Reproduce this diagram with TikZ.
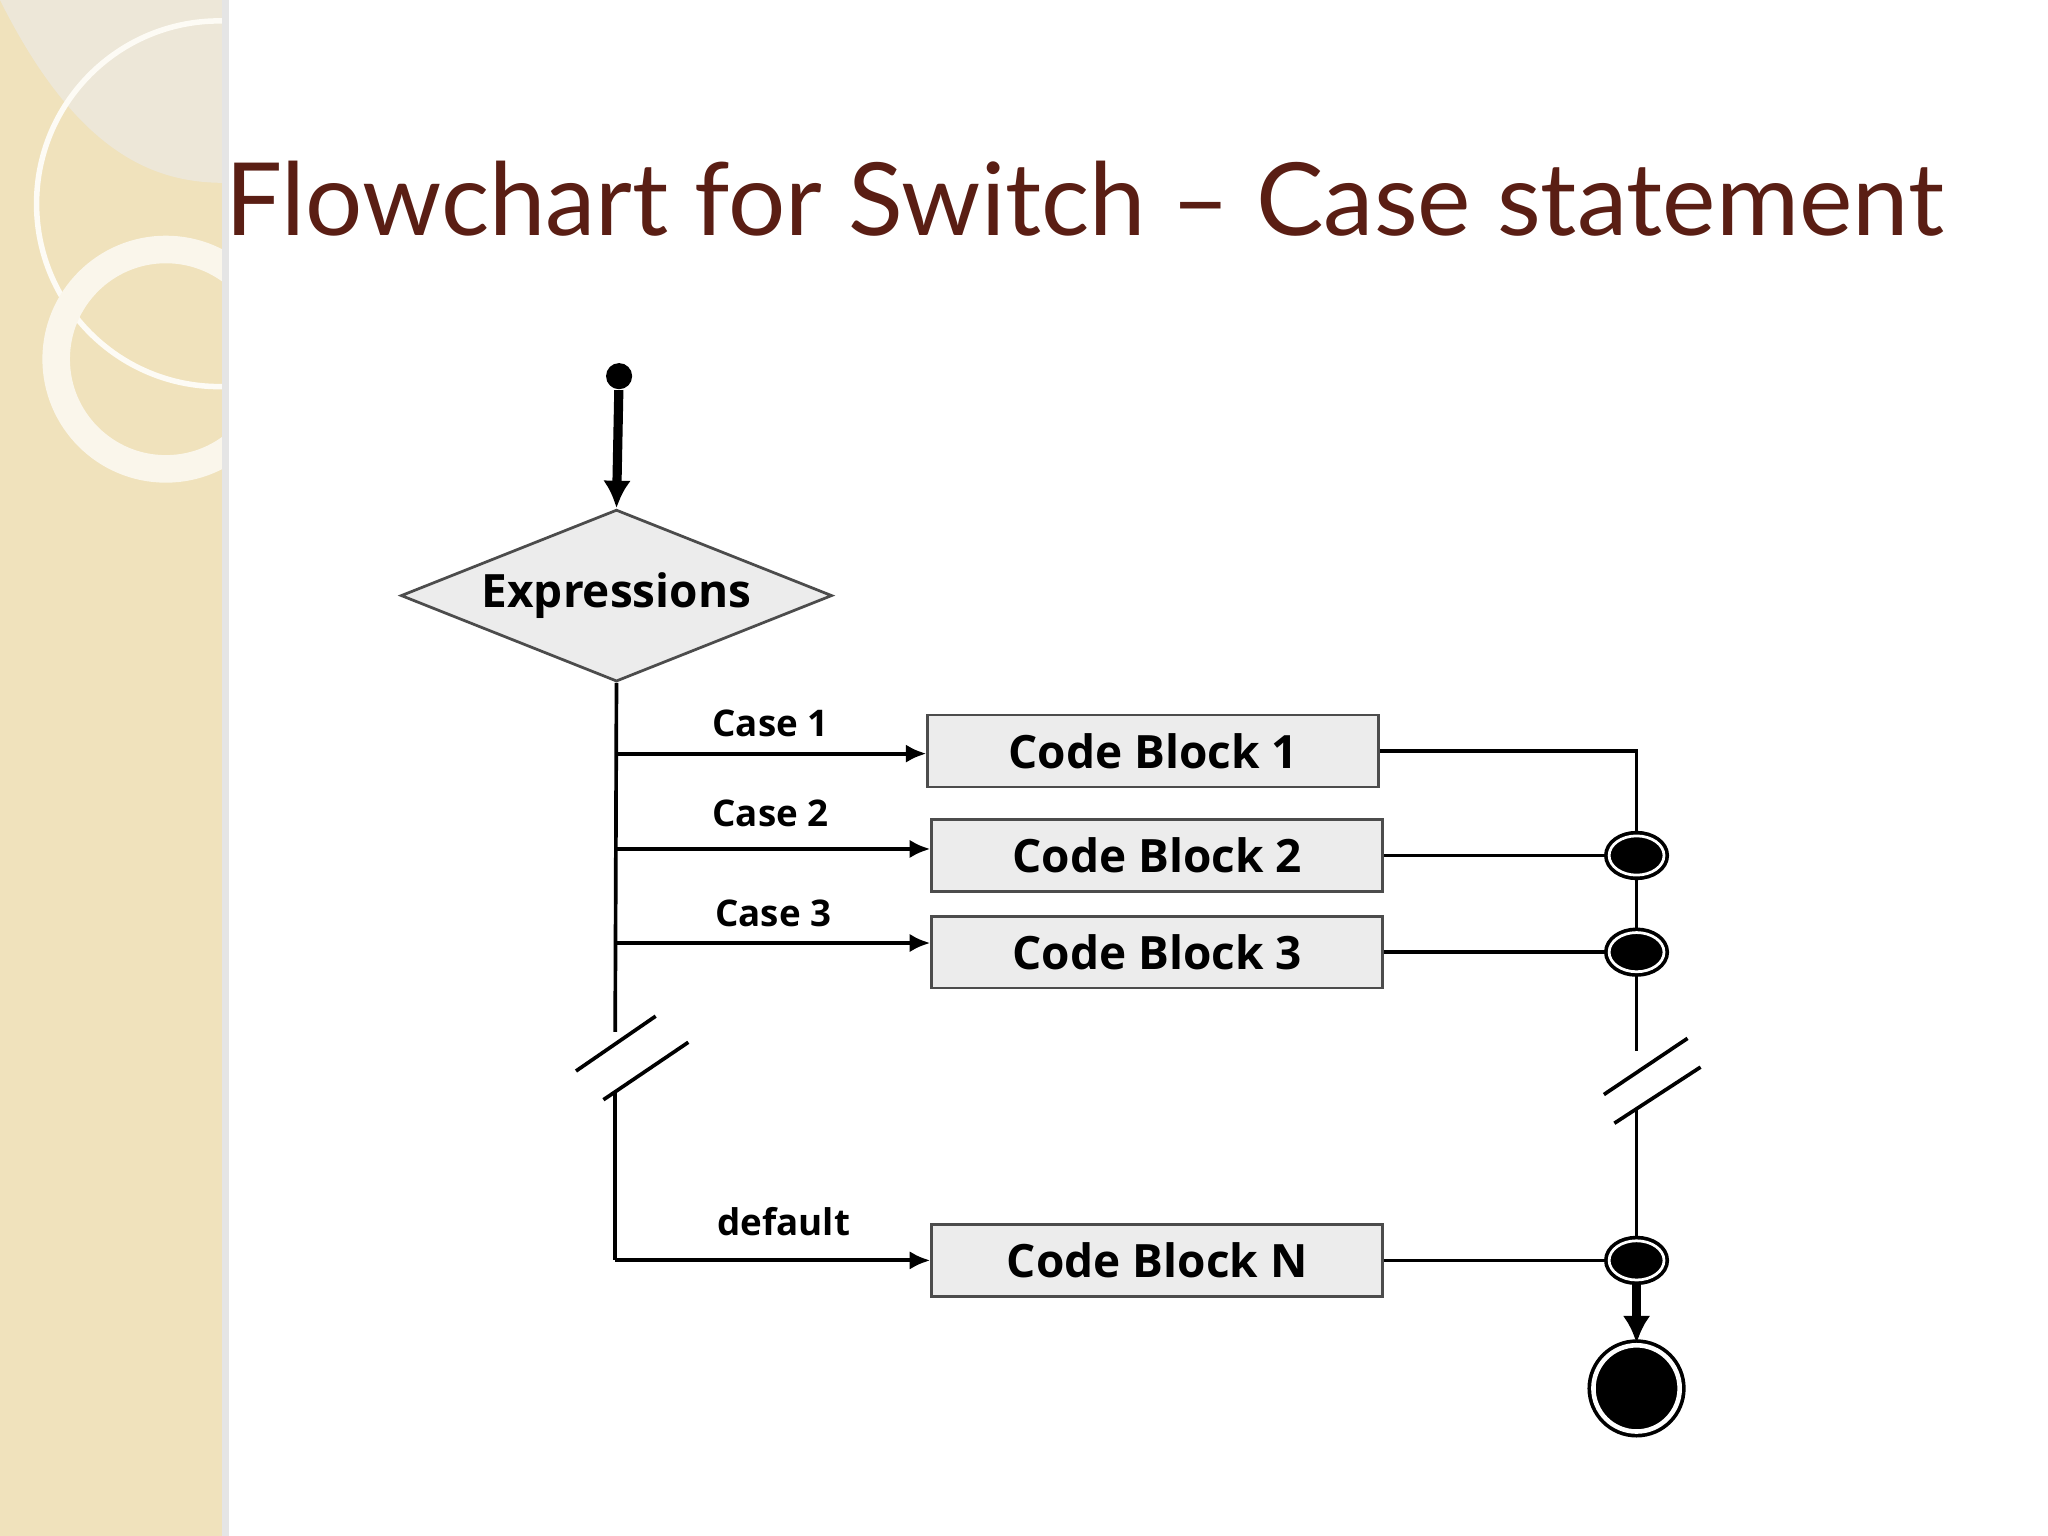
\documentclass[tikz,border=0pt]{standalone}
\usepackage{fontspec}
\setmainfont{Lato}
\newfontfamily\boxfont{Open Sans}
\usetikzlibrary{shapes.geometric,arrows.meta}
\definecolor{band}{RGB}{240,226,188}
\definecolor{titlec}{RGB}{90,30,20}
\definecolor{boxg}{RGB}{236,236,236}
\begin{document}
\begin{tikzpicture}[x=0.01cm,y=-0.01cm,
  blk/.style={draw=black!70,line width=0.6pt,fill=boxg,minimum width=3.45cm,minimum height=0.55cm,inner sep=0pt,font=\boxfont\bfseries\fontsize{10}{12}\selectfont},
  lab/.style={font=\boxfont\bfseries\fontsize{8}{10}\selectfont},
  ln/.style={line width=0.8pt},
  arr/.style={line width=0.9pt,-{Latex[length=4.5pt,width=4pt]}},
  junc/.style={ellipse,draw,line width=0.8pt,fill=black,minimum width=0.42cm,minimum height=0.3cm,inner sep=0pt,double=white,double distance=0.6pt}]
\useasboundingbox (0,0) rectangle (1568,1176);
\fill[white] (0,0) rectangle (1568,1176);
% side band
\fill[band] (0,0) rectangle (172,1176);
\begin{scope}
\clip (0,0) rectangle (172,1176);
\fill[black!8,opacity=0.6] (0,0) .. controls (60,120) and (120,140) .. (172,140) -- (172,0) -- cycle;
\draw[white!85!band,line width=1.2pt] (168,156) circle (140);
\draw[white!70!band,line width=6pt] (127,275) circle (84);
\end{scope}
\fill[black!10] (170,0) rectangle (175,1176);
% title
\node[anchor=west,text=titlec,font=\fontsize{22}{26}\selectfont,inner sep=0pt] (title) at (172,152) {Flowchart for Switch -- Case statement};
% chart
\node[circle,fill=black,minimum size=0.2cm,inner sep=0pt] (start) at (474,288) {};
\node[diamond,draw=black!70,line width=0.6pt,fill=boxg,minimum width=3.3cm,aspect=2.14,inner sep=0pt,font=\boxfont\bfseries\fontsize{10}{12}\selectfont] (expr) at (472,456) {Expressions};
\draw[arr,line width=2pt,-{Latex[length=6pt,width=6pt]}] (start) -- (expr.north);
\node[blk] (b1) at (883,575) {Code Block 1};
\node[blk] (b2) at (886,655) {Code Block 2};
\node[blk] (b3) at (886,729) {Code Block 3};
\node[blk] (bn) at (886,965) {Code Block N};
\coordinate (v1) at (471,577);
\coordinate (v2) at (471,650);
\coordinate (v3) at (471,722);
\coordinate (vb1) at (471,790);
\coordinate (vb2) at (471,835);
\coordinate (vn) at (471,965);
\draw[ln] (expr.south) -- (vb1);
\draw[ln] (vb2) -- (vn);
\draw[ln] (441,820) -- (502,778);
\draw[ln] (462,842) -- (527,798);
\draw[arr] (v1) -- (b1.west |- v1);
\draw[arr] (v2) -- (b2.west |- v2);
\draw[arr] (v3) -- (b3.west |- v3);
\draw[arr] (vn) -- (bn.west);
\node[lab] at (590,554) {Case 1};
\node[lab] at (590,623) {Case 2};
\node[lab] at (592,699) {Case 3};
\node[lab] at (600,935) {default};
% right side
\node[junc] (j2) at (1253,655) {};
\node[junc] (j3) at (1253,729) {};
\node[junc] (jn) at (1253,965) {};
\node[circle,draw,line width=0.8pt,fill=black,minimum size=0.66cm,inner sep=0pt,double=white,double distance=1pt] (end) at (1253,1063) {};
\coordinate (c1) at (1253,575);
\coordinate (rb1) at (1253,805);
\coordinate (rb2) at (1253,850);
\draw[ln] (b1.east) -- (c1) -- (j2);
\draw[ln] (b2.east) -- (j2);
\draw[ln] (b3.east) -- (j3);
\draw[ln] (bn.east) -- (jn);
\draw[ln] (j2) -- (j3) -- (rb1);
\draw[ln] (rb2) -- (jn);
\draw[ln] (1228,838) -- (1292,795);
\draw[ln] (1236,860) -- (1302,817);
\draw[arr,line width=2pt,-{Latex[length=6pt,width=6pt]}] (jn) -- (end);
\end{tikzpicture}
\end{document}
